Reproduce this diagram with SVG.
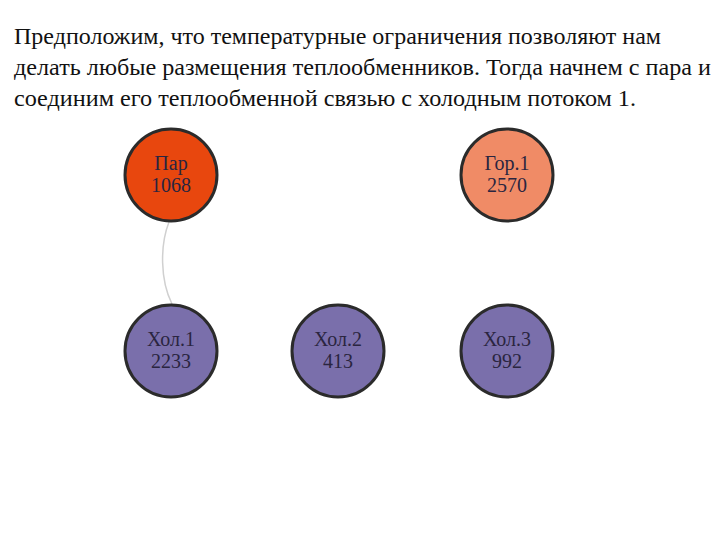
<svg xmlns="http://www.w3.org/2000/svg" width="720" height="540" viewBox="0 0 720 540">
<style>
.t{font-family:"Liberation Serif","Times New Roman",serif;font-size:24px;fill:#111}
.n{stroke:#2b2b2b;stroke-width:3}
.lbl{font-family:"Liberation Serif","Times New Roman",serif;font-size:20px;fill:#2a2540;text-anchor:middle}
.hot{fill:#E8470E}
.hot2{fill:#F08B66}
.cold{fill:#7A6FAB}
</style>
<rect width="720" height="540" fill="#fff"/>
<text class="t" x="14" y="44" textLength="647" lengthAdjust="spacingAndGlyphs">Предположим, что температурные ограничения позволяют нам</text>
<text class="t" x="14" y="75" textLength="697" lengthAdjust="spacingAndGlyphs">делать любые размещения теплообменников. Тогда начнем с пара и</text>
<text class="t" x="14" y="106" textLength="622" lengthAdjust="spacingAndGlyphs">соединим его теплообменной связью с холодным потоком 1.</text>
<g id="connectors">
<path d="M169,222 C160,245 160,280 172,304" fill="none" stroke="#d0d0d0" stroke-width="1.5"/>
</g>
<g id="par"><circle class="n hot" cx="171" cy="175" r="46"/><text class="lbl" x="171" y="170">Пар</text><text class="lbl" x="171" y="192">1068</text></g>
<g id="gor1"><circle class="n hot2" cx="507" cy="175" r="46"/><text class="lbl" x="507" y="170">Гор.1</text><text class="lbl" x="507" y="192">2570</text></g>
<g id="hol1"><circle class="n cold" cx="171" cy="351" r="46"/><text class="lbl" x="171" y="346">Хол.1</text><text class="lbl" x="171" y="368">2233</text></g>
<g id="hol2"><circle class="n cold" cx="338" cy="351" r="46"/><text class="lbl" x="338" y="346">Хол.2</text><text class="lbl" x="338" y="368">413</text></g>
<g id="hol3"><circle class="n cold" cx="507" cy="351" r="46"/><text class="lbl" x="507" y="346">Хол.3</text><text class="lbl" x="507" y="368">992</text></g>
</svg>
